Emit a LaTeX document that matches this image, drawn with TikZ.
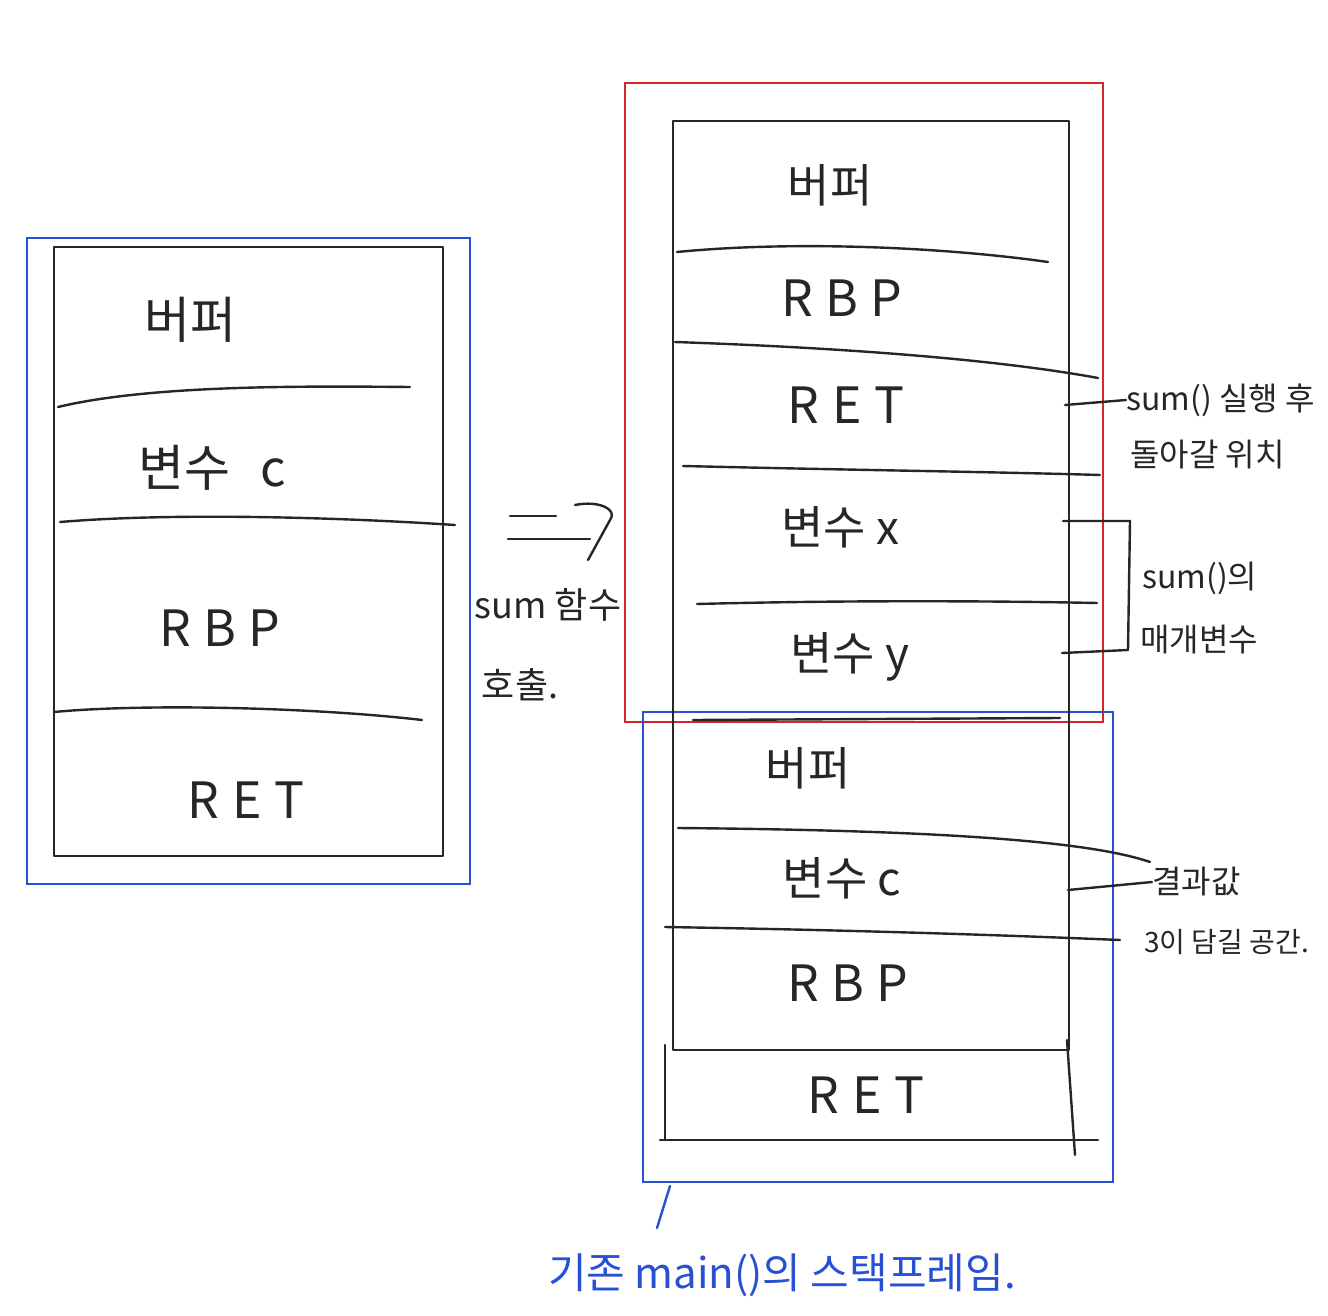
\documentclass[tikz,border=0pt]{standalone}
\usepackage{fontspec}
\setmainfont{Noto Sans CJK KR}
\begin{document}
\begin{tikzpicture}[x=1pt,y=-1pt,
  ink/.style={line width=2.4pt,black!85,line cap=round,line join=round},
  bluebox/.style={line width=2.4pt,draw={rgb,255:red,40;green,80;blue,210}},
  redbox/.style={line width=2.4pt,draw={rgb,255:red,210;green,40;blue,40}},
  big/.style={font=\fontsize{46}{50}\selectfont,text=black!85,inner sep=0pt},
  spaced/.style={font=\fontsize{50}{54}\selectfont\addfontfeature{LetterSpace=25},text=black!85,inner sep=0pt},
  mid/.style={font=\fontsize{36}{40}\selectfont,text=black!85,inner sep=0pt},
  note/.style={font=\fontsize{32}{36}\selectfont,text=black!85,inner sep=0pt,anchor=west},
  bluenote/.style={font=\fontsize{42}{46}\selectfont,text={rgb,255:red,40;green,80;blue,210},inner sep=0pt}]
\useasboundingbox (0,0) rectangle (1328,1316);
\fill[white] (0,0) rectangle (1328,1316);
% ---------- left stack ----------
\draw[bluebox] (27,238) rectangle (470,884);
\draw[ink] (54,247) rectangle (443,856);
\draw[ink] (58,407) .. controls (150,385) and (300,386) .. (410,387);
\draw[ink] (60,522) .. controls (180,512) and (350,518) .. (455,525);
\draw[ink] (54,712) .. controls (150,703) and (320,708) .. (422,720);
\node[big,font=\fontsize{50}{54}\selectfont] (l1) at (190,320) {버퍼};
\node[big,font=\fontsize{50}{54}\selectfont] (l2) at (212,468) {변수\hspace{30pt}c};
\node[spaced] (l3) at (220,628) {RBP};
\node[spaced] (l4) at (246,800) {RET};
% ---------- arrow and call ----------
\coordinate (a1) at (510,516);
\coordinate (a2) at (556,516);
\coordinate (a3) at (508,539);
\coordinate (a4) at (590,539);
\coordinate (a5) at (575,505);
\coordinate (a6) at (588,560);
\draw[ink] (a1) -- (a2);
\draw[ink] (a3) -- (a4);
\draw[ink] (a5) .. controls (600,500) and (618,510) .. (610,520) -- (a6);
\node[mid] (call1) at (548,605) {sum 함수};
\node[mid] (call2) at (520,685) {호출.};
% ---------- right stack ----------
\draw[redbox] (625,83) rectangle (1103,722);
\draw[bluebox] (643,712) rectangle (1113,1182);
\draw[ink] (673,1050) -- (673,121) -- (1069,121) -- (1069,1050) -- cycle;
\draw[ink] (665,1045) -- (665,1140);
\draw[ink] (660,1140) -- (1098,1140);
\draw[ink] (1067,1040) -- (1075,1155);
\draw[ink] (677,252) .. controls (800,240) and (950,248) .. (1048,262);
\draw[ink] (675,342) .. controls (850,348) and (1000,360) .. (1098,378);
\draw[ink] (683,466) .. controls (850,470) and (1000,472) .. (1100,475);
\draw[ink] (697,604) .. controls (850,600) and (1000,601) .. (1097,603);
\draw[ink] (693,720) -- (1060,718);
\draw[ink] (678,828) .. controls (900,830) and (1080,838) .. (1150,862);
\draw[ink] (665,927) .. controls (850,930) and (1000,935) .. (1120,940);
\node[big] (r1) at (830,185) {버퍼};
\node[spaced] (r2) at (842,298) {RBP};
\node[spaced] (r3) at (846,405) {RET};
\node[big] (r4) at (840,527) {변수 x};
\node[big] (r5) at (850,657) {변수 y};
\node[big] (r6) at (808,768) {버퍼};
\node[big] (r7) at (842,878) {변수 c};
\node[spaced] (r8) at (848,983) {RBP};
\node[spaced] (r9) at (866,1095) {RET};
% ---------- annotations ----------
\node[note] (n1) at (1126,400) {sum() 실행 후};
\node[note] (n2) at (1130,455) {돌아갈 위치};
\coordinate (p1) at (1065,405);
\draw[ink] (p1) -- (n1.west);
\node[note] (n3) at (1142,578) {sum()의};
\node[note] (n4) at (1140,640) {매개변수};
\coordinate (b1) at (1063,521);
\coordinate (b2) at (1130,521);
\coordinate (b3) at (1128,650);
\coordinate (b4) at (1062,653);
\draw[ink] (b1) -- (b2) -- (b3) -- (b4);
\node[note] (n5) at (1152,882) {결과값};
\node[note,font=\fontsize{28}{32}\selectfont] (n6) at (1144,942) {3이 담길 공간.};
\coordinate (p2) at (1068,890);
\draw[ink] (p2) -- (n5.west);
% ---------- bottom label ----------
\node[bluenote] (main) at (782,1275) {기존 main()의 스택프레임.};
\coordinate (m1) at (670,1186);
\draw[line width=2.4pt,draw={rgb,255:red,40;green,80;blue,210},line cap=round] (m1) -- (657,1228);
\end{tikzpicture}
\end{document}
